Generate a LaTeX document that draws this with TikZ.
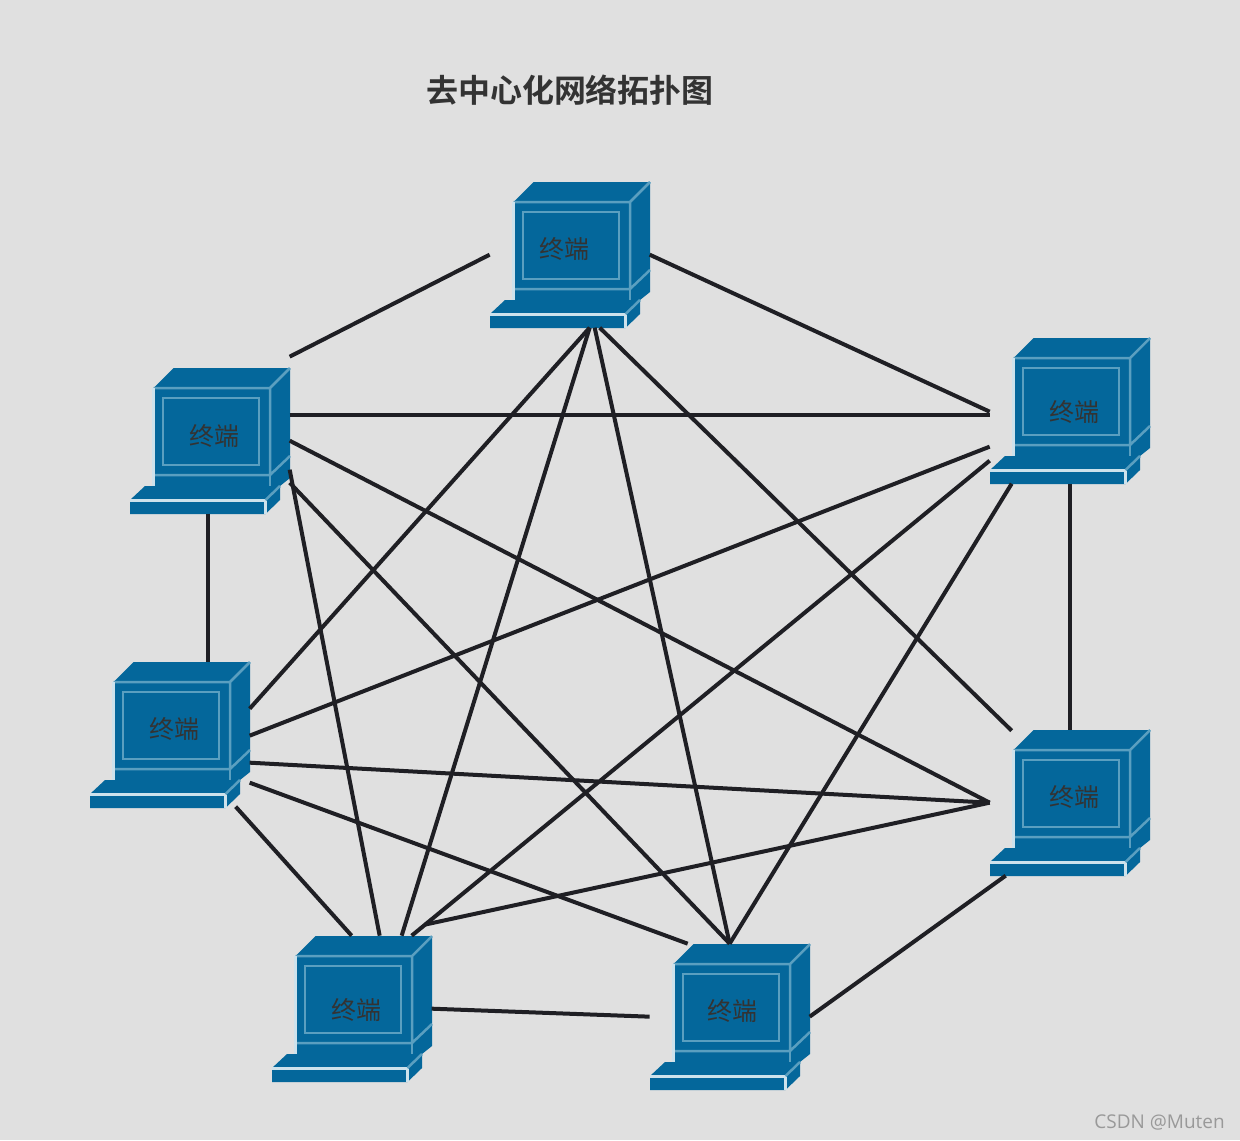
\documentclass[tikz,border=0pt]{standalone}
\usepackage{fontspec}
\newfontfamily\cjkfont{Noto Sans CJK SC}
\newfontfamily\cjkbold[BoldFont={Noto Sans CJK SC Bold}]{Noto Sans CJK SC}
\setmainfont{Open Sans}
\definecolor{bgc}{HTML}{E0E0E0}
\definecolor{body}{HTML}{04679B}
\definecolor{edgec}{HTML}{5A9FC0}
\definecolor{wirec}{HTML}{1F1F24}
\definecolor{txt}{HTML}{333333}
\tikzset{
  x=0.02cm,y=-0.02cm,
  wire/.style={draw=wirec,line width=0.08cm},
  rim/.style={draw=edgec,line width=0.05cm},
  bright/.style={draw=white!70!edgec,line width=0.045cm},
  hull/.style={inner sep=0pt,minimum width=3.2cm,minimum height=2.92cm},
  tag/.style={inner sep=0pt,text=txt,font=\cjkfont\fontsize{14.2}{17}\selectfont},
}
\newcommand\computer[5]{%
  \begin{scope}[shift={(#2,#3)}]
    \fill[body] (23.5,20) -- (43.5,0) -- (160,0) -- (160,110) -- (150,118) -- (150,132) -- (135.5,146) -- (0,146) -- (0,132) -- (15,118) -- (23.5,118) -- cycle;
    \draw[rim] (23.5,20) -- (140,20) -- (160,0) (140,20) -- (140,107) (23.5,107) -- (140,107) -- (160,88);
    \draw[rim,line width=0.035cm] (140,107) -- (140,118);
    \draw[rim] (33,30) rectangle (129,97);
    \draw[bright] (23.5,20) -- (23.5,118);
    \draw[bright] (0,132.5) -- (135.5,132.5) -- (135.5,146);
    \draw[rim] (135.5,132) -- (150,118);
    \node[hull] (#1) at (80,73) {};
    \node[tag] (#1text) at (#4,#5) {终端};
  \end{scope}}
\newcommand\link[6]{\draw[wire] ([shift={(#2,#3)}]#1.north west) -- ([shift={(#5,#6)}]#4.north west);}
\begin{document}
\begin{tikzpicture}
\path[use as bounding box,fill=bgc] (0,0) rectangle (1240,1140);
\node[inner sep=0pt,text=txt,font=\cjkbold\bfseries\fontsize{18.2}{22}\selectfont] (title) at (570,90) {去中心化网络拓扑图};
\computer{T}{490}{182}{74}{67}
\computer{A}{990}{338}{84}{74}
\computer{B}{990}{730}{84}{67}
\computer{C}{650}{944}{82}{67}
\computer{D}{272}{936}{84}{74}
\computer{E}{90}{662}{84}{67}
\computer{F}{130}{368}{84}{68}
\link{T}{0}{73}{F}{160}{-11}
\link{T}{160}{73}{A}{0}{74}
\link{F}{160}{47}{A}{0}{77}
\link{F}{78}{146}{E}{118}{0}
\link{A}{80}{146}{B}{80}{0}
\link{E}{146}{145}{D}{80}{0}
\link{D}{160}{73}{C}{0}{73}
\link{C}{160}{73}{B}{16}{146}
\link{T}{100}{146}{E}{160}{47}
\link{T}{100}{146}{D}{130}{0}
\link{T}{105}{146}{C}{80}{0}
\link{T}{110}{146}{B}{22}{1}
\link{F}{160}{73}{B}{0}{73}
\link{F}{160}{102}{D}{108}{0}
\link{F}{160}{115}{C}{80}{0}
\link{A}{0}{109}{E}{160}{74}
\link{A}{0}{123}{D}{140}{0}
\link{A}{22}{146}{C}{80}{0}
\link{E}{160}{101}{B}{0}{73}
\link{E}{160}{121}{C}{38}{0}
\link{B}{0}{73}{D}{153}{-11}
\node[inner sep=0pt,anchor=east,text=black!40,font=\fontsize{10.8}{13}\selectfont] (mark) at (1225,1122) {CSDN @Muten};
\end{tikzpicture}
\end{document}
